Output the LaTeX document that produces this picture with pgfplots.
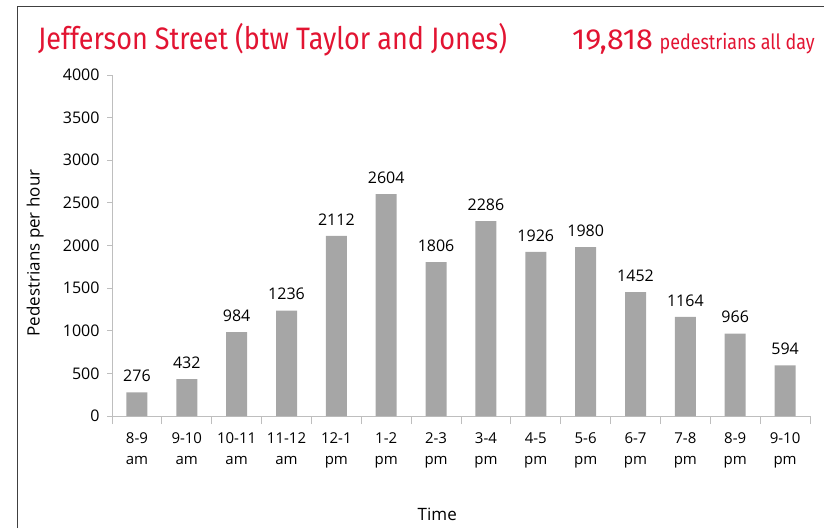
\documentclass[border=0pt]{standalone}
\usepackage{fontspec}
\usepackage{graphicx}
\usepackage{pgfplots}
\pgfplotsset{compat=1.18}
\setmainfont{Open Sans}
\newfontfamily\titlefont{Fira Sans}
\definecolor{titlered}{RGB}{226,20,50}
\definecolor{bargray}{RGB}{166,166,166}
\definecolor{axisgray}{RGB}{190,190,190}
\begin{document}
\begin{tikzpicture}[x=1pt,y=1pt]
\useasboundingbox (0,0) rectangle (824,528);
\draw[black!75, line width=1pt] (17,0) -- (17,521) -- (824,521);
\node[anchor=base west, inner sep=0, text=titlered] at (38,478)
  {\scalebox{0.87}[1]{\titlefont\fontsize{31}{36}\selectfont Jefferson Street (btw Taylor and Jones)}};
\node[anchor=base west, inner sep=0, text=titlered] at (572,478)
  {\scalebox{1.05}[1]{\titlefont\fontsize{29}{34}\selectfont 19,818}};
\node[anchor=base east, inner sep=0, text=titlered] at (815,478)
  {\scalebox{0.855}[1]{\titlefont\fontsize{21}{26}\selectfont pedestrians all day}};
\begin{axis}[
  at={(112pt,112pt)}, anchor=south west,
  scale only axis, width=698pt, height=341pt,
  xmin=-0.5, xmax=13.5, ymin=0, ymax=4000,
  axis x line*=bottom, axis y line*=left,
  axis line style={draw=axisgray, line width=0.8pt},
  tick align=outside,
  major tick length=5pt, minor tick length=8pt,
  tick style={draw=axisgray, line width=0.8pt},
  major x tick style={draw=none},
  xtick={0,...,13},
  minor xtick={-0.5,0.5,...,13.5},
  xticklabels={{8-9\\am},{9-10\\am},{10-11\\am},{11-12\\am},{12-1\\pm},{1-2\\pm},{2-3\\pm},{3-4\\pm},{4-5\\pm},{5-6\\pm},{6-7\\pm},{7-8\\pm},{8-9\\pm},{9-10\\pm}},
  xticklabel style={align=center, font=\fontsize{15}{21}\selectfont, yshift=-8pt},
  ytick={0,500,...,4000},
  yticklabel style={font=\fontsize{16}{19}\selectfont, xshift=-4pt},
  /pgf/number format/assume math mode=true,
  /pgf/number format/set thousands separator={},
  ylabel={Pedestrians per hour},
  ylabel style={at={(axis description cs:-0.110,0.478)}, anchor=center, font=\fontsize{17}{20}\selectfont},
  xlabel={Time},
  xlabel style={at={(axis description cs:0.466,-0.287)}, anchor=center, font=\fontsize{17}{20}\selectfont},
  ybar, bar width=21pt,
  nodes near coords,
  every node near coord/.append style={font=\fontsize{16}{19}\selectfont, text=black, yshift=7pt},
  clip=false,
]
\addplot[fill=bargray, draw=none] coordinates {
  (0,276) (1,432) (2,984) (3,1236) (4,2112) (5,2604) (6,1806)
  (7,2286) (8,1926) (9,1980) (10,1452) (11,1164) (12,966) (13,594)};
\end{axis}
\end{tikzpicture}
\end{document}
